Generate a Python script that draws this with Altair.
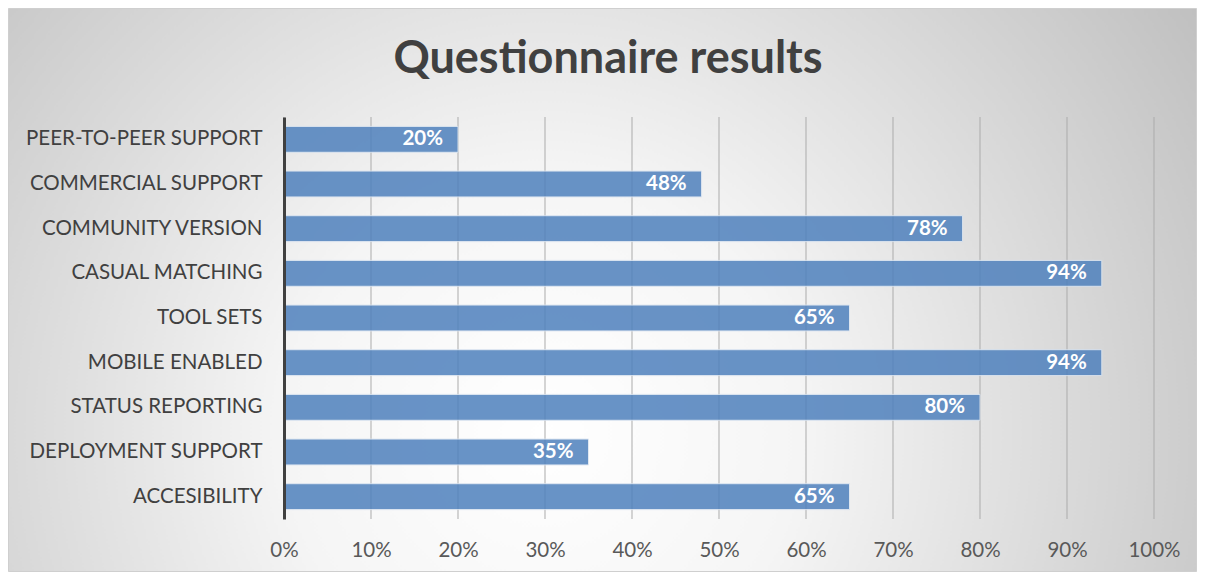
import altair as alt
import pandas as pd

categories = ["PEER-TO-PEER SUPPORT", "COMMERCIAL SUPPORT", "COMMUNITY VERSION",
              "CASUAL MATCHING", "TOOL SETS", "MOBILE ENABLED", "STATUS REPORTING",
              "DEPLOYMENT SUPPORT", "ACCESIBILITY"]
values = [20, 48, 78, 94, 65, 94, 80, 35, 65]
x_ticks = [0, 10, 20, 30, 40, 50, 60, 70, 80, 90, 100]

df = pd.DataFrame({"category": categories, "value": values})
df["label"] = [f"{v}%" for v in values]
ticks_df = pd.DataFrame({"t": x_ticks})

W, H = 870, 402
PL, PT, PR, PB = 276, 109, 43, 53
FONT = "Lato"

gradient = {
    "gradient": "radial",
    "x1": 0.45, "y1": 0.62, "r1": 0,
    "x2": 0.45, "y2": 0.62, "r2": 0.72,
    "stops": [
        {"offset": 0, "color": "#ffffff"},
        {"offset": 0.3, "color": "#f5f5f5"},
        {"offset": 1, "color": "#b8b8b8"},
    ],
}

xscale = alt.Scale(domain=[0, 100], nice=False)
yscale = alt.Scale(paddingInner=0.42, paddingOuter=0.21)
xaxis = alt.Axis(values=x_ticks, labelExpr="datum.value + '%'",
                 labelFont=FONT, labelFontSize=20.5, labelColor="#595959",
                 ticks=False, domain=False, grid=False, labelPadding=21,
                 labelFlush=False, labelOverlap=False, zindex=1)

bg = alt.Chart(pd.DataFrame({"a": [0]})).mark_rect(
    fill=gradient, stroke="#cfcfcf", strokeWidth=1
).encode(
    x=alt.value(-PL + 0.5), x2=alt.value(W + PR - 0.5),
    y=alt.value(-PT + 0.5), y2=alt.value(H + PB - 0.5),
)

grid = alt.Chart(ticks_df).mark_rule(color="#ababab", strokeWidth=1).encode(
    x=alt.X("t:Q", scale=xscale, axis=xaxis, title=None),
    y=alt.value(0), y2=alt.value(H),
)

bars = alt.Chart(df).mark_bar(
    color="#4f81bd", opacity=0.85, stroke="#dbe5f1", strokeWidth=1
).encode(
    y=alt.Y("category:N", sort=None, scale=yscale, title=None,
            axis=alt.Axis(labelFont=FONT, labelFontSize=20.5, labelColor="#404040",
                          ticks=False, labelPadding=22, domainColor="#404040",
                          domainWidth=3, grid=False, zindex=1, labelLimit=400)),
    x=alt.X("value:Q", scale=xscale, title=None, axis=xaxis),
)

labels = alt.Chart(df).mark_text(
    align="right", baseline="middle", dx=-15, font=FONT, fontSize=20.5,
    fontWeight="bold", color="white"
).encode(
    y=alt.Y("category:N", sort=None, scale=yscale),
    x=alt.X("value:Q", scale=xscale),
    text="label:N",
)

chart = alt.layer(bg, grid, bars, labels).properties(
    width=W, height=H,
    autosize=alt.AutoSizeParams(type="none"),
    padding={"left": PL, "top": PT, "right": PR, "bottom": PB},
    title=alt.TitleParams("Questionnaire results", font=FONT, fontSize=45,
                          fontWeight="bold", color="#404040", anchor="middle",
                          frame="group", dx=-111, offset=-110,
                          baseline="alphabetic", zindex=1),
).configure_view(stroke=None)

chart.save("out.html", embed_options={"renderer": "svg", "actions": False})
